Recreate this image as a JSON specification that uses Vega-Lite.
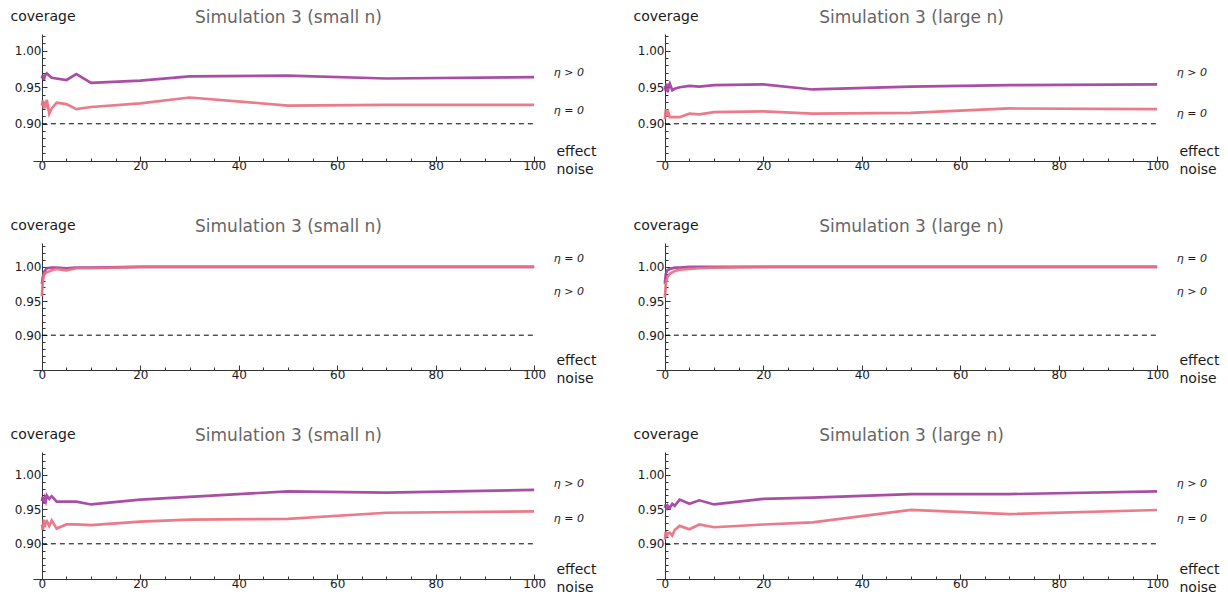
{
  "$schema": "https://vega.github.io/schema/vega-lite/v6.json",
  "padding": {"left": 10, "top": 9, "right": 0, "bottom": 0},
  "config": {
    "font": "DejaVu Sans",
    "view": {"stroke": null},
    "axis": {"grid": false, "domainColor": "#333333", "tickColor": "#333333", "labelColor": "#1a1a1a", "titleColor": "#1a1a1a", "labelFontSize": 12, "titleFontWeight": "normal", "domainWidth": 1, "tickWidth": 1, "labelOverlap": false},
    "title": {"fontSize": 17, "fontWeight": "normal", "color": "#666666", "anchor": "middle", "frame": "group", "offset": -18},
    "line": {"strokeWidth": 2.7, "strokeOpacity": 0.92}
  },
  "datasets": {
    "lines": [
      {"panel":"A","eta":"pos","x":0,"y":0.962},{"panel":"A","eta":"pos","x":0.2,"y":0.967},{"panel":"A","eta":"pos","x":0.4,"y":0.96},{"panel":"A","eta":"pos","x":0.6,"y":0.966},{"panel":"A","eta":"pos","x":1,"y":0.969},{"panel":"A","eta":"pos","x":2,"y":0.963},{"panel":"A","eta":"pos","x":5,"y":0.96},{"panel":"A","eta":"pos","x":7,"y":0.968},{"panel":"A","eta":"pos","x":10,"y":0.956},{"panel":"A","eta":"pos","x":20,"y":0.959},{"panel":"A","eta":"pos","x":30,"y":0.965},{"panel":"A","eta":"pos","x":50,"y":0.966},{"panel":"A","eta":"pos","x":70,"y":0.962},{"panel":"A","eta":"pos","x":100,"y":0.964},
      {"panel":"A","eta":"zero","x":0,"y":0.925},{"panel":"A","eta":"zero","x":0.2,"y":0.932},{"panel":"A","eta":"zero","x":0.4,"y":0.921},{"panel":"A","eta":"zero","x":0.6,"y":0.93},{"panel":"A","eta":"zero","x":0.8,"y":0.926},{"panel":"A","eta":"zero","x":1,"y":0.933},{"panel":"A","eta":"zero","x":1.5,"y":0.914},{"panel":"A","eta":"zero","x":2,"y":0.921},{"panel":"A","eta":"zero","x":3,"y":0.929},{"panel":"A","eta":"zero","x":5,"y":0.927},{"panel":"A","eta":"zero","x":7,"y":0.92},{"panel":"A","eta":"zero","x":10,"y":0.923},{"panel":"A","eta":"zero","x":20,"y":0.928},{"panel":"A","eta":"zero","x":30,"y":0.936},{"panel":"A","eta":"zero","x":50,"y":0.925},{"panel":"A","eta":"zero","x":70,"y":0.926},{"panel":"A","eta":"zero","x":100,"y":0.926},
      {"panel":"B","eta":"pos","x":0,"y":0.952},{"panel":"B","eta":"pos","x":0.2,"y":0.945},{"panel":"B","eta":"pos","x":0.4,"y":0.955},{"panel":"B","eta":"pos","x":0.6,"y":0.943},{"panel":"B","eta":"pos","x":0.8,"y":0.952},{"panel":"B","eta":"pos","x":1,"y":0.955},{"panel":"B","eta":"pos","x":1.5,"y":0.946},{"panel":"B","eta":"pos","x":2,"y":0.948},{"panel":"B","eta":"pos","x":3,"y":0.95},{"panel":"B","eta":"pos","x":5,"y":0.952},{"panel":"B","eta":"pos","x":7,"y":0.951},{"panel":"B","eta":"pos","x":10,"y":0.953},{"panel":"B","eta":"pos","x":20,"y":0.954},{"panel":"B","eta":"pos","x":30,"y":0.947},{"panel":"B","eta":"pos","x":50,"y":0.951},{"panel":"B","eta":"pos","x":70,"y":0.953},{"panel":"B","eta":"pos","x":100,"y":0.954},
      {"panel":"B","eta":"zero","x":0,"y":0.906},{"panel":"B","eta":"zero","x":0.2,"y":0.92},{"panel":"B","eta":"zero","x":0.4,"y":0.91},{"panel":"B","eta":"zero","x":0.6,"y":0.918},{"panel":"B","eta":"zero","x":1,"y":0.909},{"panel":"B","eta":"zero","x":2,"y":0.909},{"panel":"B","eta":"zero","x":3,"y":0.909},{"panel":"B","eta":"zero","x":5,"y":0.914},{"panel":"B","eta":"zero","x":7,"y":0.913},{"panel":"B","eta":"zero","x":10,"y":0.916},{"panel":"B","eta":"zero","x":20,"y":0.917},{"panel":"B","eta":"zero","x":30,"y":0.914},{"panel":"B","eta":"zero","x":50,"y":0.915},{"panel":"B","eta":"zero","x":70,"y":0.921},{"panel":"B","eta":"zero","x":100,"y":0.92},
      {"panel":"C","eta":"pos","x":0,"y":0.975},{"panel":"C","eta":"pos","x":0.2,"y":0.985},{"panel":"C","eta":"pos","x":0.5,"y":0.993},{"panel":"C","eta":"pos","x":1,"y":0.998},{"panel":"C","eta":"pos","x":2,"y":0.999},{"panel":"C","eta":"pos","x":3,"y":0.999},{"panel":"C","eta":"pos","x":5,"y":0.998},{"panel":"C","eta":"pos","x":7,"y":0.999},{"panel":"C","eta":"pos","x":10,"y":0.999},{"panel":"C","eta":"pos","x":20,"y":1.0},{"panel":"C","eta":"pos","x":30,"y":1.0},{"panel":"C","eta":"pos","x":50,"y":1.0},{"panel":"C","eta":"pos","x":70,"y":1.0},{"panel":"C","eta":"pos","x":100,"y":1.0},
      {"panel":"C","eta":"zero","x":0,"y":0.957},{"panel":"C","eta":"zero","x":0.2,"y":0.98},{"panel":"C","eta":"zero","x":0.5,"y":0.99},{"panel":"C","eta":"zero","x":1,"y":0.992},{"panel":"C","eta":"zero","x":2,"y":0.995},{"panel":"C","eta":"zero","x":3,"y":0.997},{"panel":"C","eta":"zero","x":5,"y":0.995},{"panel":"C","eta":"zero","x":7,"y":0.998},{"panel":"C","eta":"zero","x":10,"y":0.998},{"panel":"C","eta":"zero","x":20,"y":1.0},{"panel":"C","eta":"zero","x":30,"y":1.0},{"panel":"C","eta":"zero","x":50,"y":1.0},{"panel":"C","eta":"zero","x":70,"y":1.0},{"panel":"C","eta":"zero","x":100,"y":1.0},
      {"panel":"D","eta":"pos","x":0,"y":0.975},{"panel":"D","eta":"pos","x":0.2,"y":0.99},{"panel":"D","eta":"pos","x":0.5,"y":0.995},{"panel":"D","eta":"pos","x":1,"y":0.997},{"panel":"D","eta":"pos","x":2,"y":0.999},{"panel":"D","eta":"pos","x":3,"y":0.999},{"panel":"D","eta":"pos","x":5,"y":1.0},{"panel":"D","eta":"pos","x":7,"y":1.0},{"panel":"D","eta":"pos","x":10,"y":1.0},{"panel":"D","eta":"pos","x":20,"y":1.0},{"panel":"D","eta":"pos","x":30,"y":1.0},{"panel":"D","eta":"pos","x":50,"y":1.0},{"panel":"D","eta":"pos","x":70,"y":1.0},{"panel":"D","eta":"pos","x":100,"y":1.0},
      {"panel":"D","eta":"zero","x":0,"y":0.955},{"panel":"D","eta":"zero","x":0.2,"y":0.975},{"panel":"D","eta":"zero","x":0.5,"y":0.985},{"panel":"D","eta":"zero","x":1,"y":0.99},{"panel":"D","eta":"zero","x":2,"y":0.994},{"panel":"D","eta":"zero","x":3,"y":0.996},{"panel":"D","eta":"zero","x":5,"y":0.997},{"panel":"D","eta":"zero","x":7,"y":0.998},{"panel":"D","eta":"zero","x":10,"y":0.999},{"panel":"D","eta":"zero","x":20,"y":1.0},{"panel":"D","eta":"zero","x":30,"y":1.0},{"panel":"D","eta":"zero","x":50,"y":1.0},{"panel":"D","eta":"zero","x":70,"y":1.0},{"panel":"D","eta":"zero","x":100,"y":1.0},
      {"panel":"E","eta":"pos","x":0,"y":0.962},{"panel":"E","eta":"pos","x":0.2,"y":0.968},{"panel":"E","eta":"pos","x":0.4,"y":0.958},{"panel":"E","eta":"pos","x":0.6,"y":0.966},{"panel":"E","eta":"pos","x":0.8,"y":0.962},{"panel":"E","eta":"pos","x":1,"y":0.97},{"panel":"E","eta":"pos","x":1.5,"y":0.965},{"panel":"E","eta":"pos","x":2,"y":0.969},{"panel":"E","eta":"pos","x":3,"y":0.961},{"panel":"E","eta":"pos","x":5,"y":0.961},{"panel":"E","eta":"pos","x":7,"y":0.961},{"panel":"E","eta":"pos","x":10,"y":0.957},{"panel":"E","eta":"pos","x":20,"y":0.964},{"panel":"E","eta":"pos","x":30,"y":0.968},{"panel":"E","eta":"pos","x":50,"y":0.976},{"panel":"E","eta":"pos","x":70,"y":0.974},{"panel":"E","eta":"pos","x":100,"y":0.978},
      {"panel":"E","eta":"zero","x":0,"y":0.928},{"panel":"E","eta":"zero","x":0.2,"y":0.92},{"panel":"E","eta":"zero","x":0.4,"y":0.935},{"panel":"E","eta":"zero","x":0.6,"y":0.924},{"panel":"E","eta":"zero","x":0.8,"y":0.932},{"panel":"E","eta":"zero","x":1,"y":0.933},{"panel":"E","eta":"zero","x":1.5,"y":0.926},{"panel":"E","eta":"zero","x":2,"y":0.934},{"panel":"E","eta":"zero","x":3,"y":0.922},{"panel":"E","eta":"zero","x":5,"y":0.928},{"panel":"E","eta":"zero","x":7,"y":0.928},{"panel":"E","eta":"zero","x":10,"y":0.927},{"panel":"E","eta":"zero","x":20,"y":0.932},{"panel":"E","eta":"zero","x":30,"y":0.935},{"panel":"E","eta":"zero","x":50,"y":0.936},{"panel":"E","eta":"zero","x":70,"y":0.945},{"panel":"E","eta":"zero","x":100,"y":0.947},
      {"panel":"F","eta":"pos","x":0,"y":0.952},{"panel":"F","eta":"pos","x":0.2,"y":0.957},{"panel":"F","eta":"pos","x":0.4,"y":0.949},{"panel":"F","eta":"pos","x":0.6,"y":0.955},{"panel":"F","eta":"pos","x":1,"y":0.952},{"panel":"F","eta":"pos","x":1.5,"y":0.958},{"panel":"F","eta":"pos","x":2,"y":0.955},{"panel":"F","eta":"pos","x":3,"y":0.964},{"panel":"F","eta":"pos","x":5,"y":0.958},{"panel":"F","eta":"pos","x":7,"y":0.963},{"panel":"F","eta":"pos","x":10,"y":0.957},{"panel":"F","eta":"pos","x":20,"y":0.965},{"panel":"F","eta":"pos","x":30,"y":0.967},{"panel":"F","eta":"pos","x":50,"y":0.972},{"panel":"F","eta":"pos","x":70,"y":0.972},{"panel":"F","eta":"pos","x":100,"y":0.976},
      {"panel":"F","eta":"zero","x":0,"y":0.906},{"panel":"F","eta":"zero","x":0.2,"y":0.918},{"panel":"F","eta":"zero","x":0.4,"y":0.91},{"panel":"F","eta":"zero","x":0.6,"y":0.915},{"panel":"F","eta":"zero","x":1,"y":0.916},{"panel":"F","eta":"zero","x":1.5,"y":0.912},{"panel":"F","eta":"zero","x":2,"y":0.92},{"panel":"F","eta":"zero","x":3,"y":0.926},{"panel":"F","eta":"zero","x":5,"y":0.921},{"panel":"F","eta":"zero","x":7,"y":0.928},{"panel":"F","eta":"zero","x":10,"y":0.924},{"panel":"F","eta":"zero","x":20,"y":0.928},{"panel":"F","eta":"zero","x":30,"y":0.931},{"panel":"F","eta":"zero","x":50,"y":0.949},{"panel":"F","eta":"zero","x":70,"y":0.943},{"panel":"F","eta":"zero","x":100,"y":0.949}
    ],
    "labels": [
      {"panel":"A","label":"η > 0","y":0.970},{"panel":"A","label":"η = 0","y":0.918},
      {"panel":"B","label":"η > 0","y":0.970},{"panel":"B","label":"η = 0","y":0.914},
      {"panel":"C","label":"η = 0","y":1.012},{"panel":"C","label":"η > 0","y":0.963},
      {"panel":"D","label":"η = 0","y":1.012},{"panel":"D","label":"η > 0","y":0.963},
      {"panel":"E","label":"η > 0","y":0.987},{"panel":"E","label":"η = 0","y":0.936},
      {"panel":"F","label":"η > 0","y":0.987},{"panel":"F","label":"η = 0","y":0.936}
    ],
    "ref": [{"level": 0.9, "from": 0, "to": 100}]
  },
  "spacing": 42,
  "vconcat": [
    {"hconcat": [
      {"width": 511, "height": 127, "title": "Simulation 3 (small n)",
       "resolve": {"axis": {"x": "independent", "y": "independent"}},
       "layer": [
        {"data": {"name": "lines"}, "transform": [{"filter": "datum.panel == 'A'"}],
         "mark": {"type": "line"},
         "encoding": {
          "x": {"field": "x", "type": "quantitative", "scale": {"domain": [-1.8, 102], "nice": false, "zero": false},
                "axis": {"orient": "bottom", "values": [0,20,40,60,80,100], "tickSize": -5, "labelPadding": 4, "title": ["effect", "noise"], "titleX": 523, "titleY": -17, "titleAlign": "left", "titleBaseline": "top", "titleFontSize": 14, "titleLineHeight": 18}},
          "y": {"field": "y", "type": "quantitative", "scale": {"domain": [0.849, 1.023], "nice": false, "zero": false},
                "axis": {"orient": "left", "offset": -9, "values": [0.9, 0.95, 1.0], "format": ".2f", "tickSize": -5, "labelPadding": 6, "title": "coverage", "titleAngle": 0, "titleX": -32, "titleY": -14, "titleAlign": "left", "titleBaseline": "alphabetic", "titleFontSize": 14}},
          "color": {"field": "eta", "type": "nominal", "scale": {"domain": ["pos", "zero"], "range": ["#a23f9c", "#e96f80"]}, "legend": null}}},
        {"data": {"name": "ref"}, "mark": {"type": "rule", "strokeDash": [5, 4], "color": "black", "strokeWidth": 1},
         "encoding": {
          "x": {"field": "from", "type": "quantitative", "axis": {"orient": "bottom", "values": [5,10,15,25,30,35,45,50,55,65,70,75,85,90,95], "labels": false, "domain": false, "tickSize": -3, "title": null}},
          "x2": {"field": "to"},
          "y": {"field": "level", "type": "quantitative", "axis": {"orient": "left", "offset": -9, "values": [0.86,0.87,0.88,0.89,0.91,0.92,0.93,0.94,0.96,0.97,0.98,0.99,1.01,1.02], "labels": false, "domain": false, "tickSize": -3, "title": null}}}},
        {"data": {"name": "labels"}, "transform": [{"filter": "datum.panel == 'A'"}],
         "mark": {"type": "text", "align": "left", "baseline": "middle", "fontSize": 11, "fontStyle": "italic", "color": "#1a1a1a"},
         "encoding": {"x": {"datum": 104, "type": "quantitative", "axis": null}, "y": {"field": "y", "type": "quantitative", "axis": null}, "text": {"field": "label"}}}
       ]},
      {"width": 511, "height": 127, "title": "Simulation 3 (large n)",
       "resolve": {"axis": {"x": "independent", "y": "independent"}},
       "layer": [
        {"data": {"name": "lines"}, "transform": [{"filter": "datum.panel == 'B'"}],
         "mark": {"type": "line"},
         "encoding": {
          "x": {"field": "x", "type": "quantitative", "scale": {"domain": [-1.8, 102], "nice": false, "zero": false},
                "axis": {"orient": "bottom", "values": [0,20,40,60,80,100], "tickSize": -5, "labelPadding": 4, "title": ["effect", "noise"], "titleX": 523, "titleY": -17, "titleAlign": "left", "titleBaseline": "top", "titleFontSize": 14, "titleLineHeight": 18}},
          "y": {"field": "y", "type": "quantitative", "scale": {"domain": [0.849, 1.023], "nice": false, "zero": false},
                "axis": {"orient": "left", "offset": -9, "values": [0.9, 0.95, 1.0], "format": ".2f", "tickSize": -5, "labelPadding": 6, "title": "coverage", "titleAngle": 0, "titleX": -32, "titleY": -14, "titleAlign": "left", "titleBaseline": "alphabetic", "titleFontSize": 14}},
          "color": {"field": "eta", "type": "nominal", "scale": {"domain": ["pos", "zero"], "range": ["#a23f9c", "#e96f80"]}, "legend": null}}},
        {"data": {"name": "ref"}, "mark": {"type": "rule", "strokeDash": [5, 4], "color": "black", "strokeWidth": 1},
         "encoding": {
          "x": {"field": "from", "type": "quantitative", "axis": {"orient": "bottom", "values": [5,10,15,25,30,35,45,50,55,65,70,75,85,90,95], "labels": false, "domain": false, "tickSize": -3, "title": null}},
          "x2": {"field": "to"},
          "y": {"field": "level", "type": "quantitative", "axis": {"orient": "left", "offset": -9, "values": [0.86,0.87,0.88,0.89,0.91,0.92,0.93,0.94,0.96,0.97,0.98,0.99,1.01,1.02], "labels": false, "domain": false, "tickSize": -3, "title": null}}}},
        {"data": {"name": "labels"}, "transform": [{"filter": "datum.panel == 'B'"}],
         "mark": {"type": "text", "align": "left", "baseline": "middle", "fontSize": 11, "fontStyle": "italic", "color": "#1a1a1a"},
         "encoding": {"x": {"datum": 104, "type": "quantitative", "axis": null}, "y": {"field": "y", "type": "quantitative", "axis": null}, "text": {"field": "label"}}}
       ]}
    ], "spacing": 36},
    {"hconcat": [
      {"width": 511, "height": 127, "title": "Simulation 3 (small n)",
       "resolve": {"axis": {"x": "independent", "y": "independent"}},
       "layer": [
        {"data": {"name": "lines"}, "transform": [{"filter": "datum.panel == 'C'"}],
         "mark": {"type": "line"},
         "encoding": {
          "x": {"field": "x", "type": "quantitative", "scale": {"domain": [-1.8, 102], "nice": false, "zero": false},
                "axis": {"orient": "bottom", "values": [0,20,40,60,80,100], "tickSize": -5, "labelPadding": 4, "title": ["effect", "noise"], "titleX": 523, "titleY": -17, "titleAlign": "left", "titleBaseline": "top", "titleFontSize": 14, "titleLineHeight": 18}},
          "y": {"field": "y", "type": "quantitative", "scale": {"domain": [0.849, 1.035], "nice": false, "zero": false},
                "axis": {"orient": "left", "offset": -9, "values": [0.9, 0.95, 1.0], "format": ".2f", "tickSize": -5, "labelPadding": 6, "title": "coverage", "titleAngle": 0, "titleX": -32, "titleY": -14, "titleAlign": "left", "titleBaseline": "alphabetic", "titleFontSize": 14}},
          "color": {"field": "eta", "type": "nominal", "scale": {"domain": ["pos", "zero"], "range": ["#a23f9c", "#e96f80"]}, "legend": null}}},
        {"data": {"name": "ref"}, "mark": {"type": "rule", "strokeDash": [5, 4], "color": "black", "strokeWidth": 1},
         "encoding": {
          "x": {"field": "from", "type": "quantitative", "axis": {"orient": "bottom", "values": [5,10,15,25,30,35,45,50,55,65,70,75,85,90,95], "labels": false, "domain": false, "tickSize": -3, "title": null}},
          "x2": {"field": "to"},
          "y": {"field": "level", "type": "quantitative", "axis": {"orient": "left", "offset": -9, "values": [0.86,0.87,0.88,0.89,0.91,0.92,0.93,0.94,0.96,0.97,0.98,0.99,1.01,1.02,1.03], "labels": false, "domain": false, "tickSize": -3, "title": null}}}},
        {"data": {"name": "labels"}, "transform": [{"filter": "datum.panel == 'C'"}],
         "mark": {"type": "text", "align": "left", "baseline": "middle", "fontSize": 11, "fontStyle": "italic", "color": "#1a1a1a"},
         "encoding": {"x": {"datum": 104, "type": "quantitative", "axis": null}, "y": {"field": "y", "type": "quantitative", "axis": null}, "text": {"field": "label"}}}
       ]},
      {"width": 511, "height": 127, "title": "Simulation 3 (large n)",
       "resolve": {"axis": {"x": "independent", "y": "independent"}},
       "layer": [
        {"data": {"name": "lines"}, "transform": [{"filter": "datum.panel == 'D'"}],
         "mark": {"type": "line"},
         "encoding": {
          "x": {"field": "x", "type": "quantitative", "scale": {"domain": [-1.8, 102], "nice": false, "zero": false},
                "axis": {"orient": "bottom", "values": [0,20,40,60,80,100], "tickSize": -5, "labelPadding": 4, "title": ["effect", "noise"], "titleX": 523, "titleY": -17, "titleAlign": "left", "titleBaseline": "top", "titleFontSize": 14, "titleLineHeight": 18}},
          "y": {"field": "y", "type": "quantitative", "scale": {"domain": [0.849, 1.035], "nice": false, "zero": false},
                "axis": {"orient": "left", "offset": -9, "values": [0.9, 0.95, 1.0], "format": ".2f", "tickSize": -5, "labelPadding": 6, "title": "coverage", "titleAngle": 0, "titleX": -32, "titleY": -14, "titleAlign": "left", "titleBaseline": "alphabetic", "titleFontSize": 14}},
          "color": {"field": "eta", "type": "nominal", "scale": {"domain": ["pos", "zero"], "range": ["#a23f9c", "#e96f80"]}, "legend": null}}},
        {"data": {"name": "ref"}, "mark": {"type": "rule", "strokeDash": [5, 4], "color": "black", "strokeWidth": 1},
         "encoding": {
          "x": {"field": "from", "type": "quantitative", "axis": {"orient": "bottom", "values": [5,10,15,25,30,35,45,50,55,65,70,75,85,90,95], "labels": false, "domain": false, "tickSize": -3, "title": null}},
          "x2": {"field": "to"},
          "y": {"field": "level", "type": "quantitative", "axis": {"orient": "left", "offset": -9, "values": [0.86,0.87,0.88,0.89,0.91,0.92,0.93,0.94,0.96,0.97,0.98,0.99,1.01,1.02,1.03], "labels": false, "domain": false, "tickSize": -3, "title": null}}}},
        {"data": {"name": "labels"}, "transform": [{"filter": "datum.panel == 'D'"}],
         "mark": {"type": "text", "align": "left", "baseline": "middle", "fontSize": 11, "fontStyle": "italic", "color": "#1a1a1a"},
         "encoding": {"x": {"datum": 104, "type": "quantitative", "axis": null}, "y": {"field": "y", "type": "quantitative", "axis": null}, "text": {"field": "label"}}}
       ]}
    ], "spacing": 36},
    {"hconcat": [
      {"width": 511, "height": 127, "title": "Simulation 3 (small n)",
       "resolve": {"axis": {"x": "independent", "y": "independent"}},
       "layer": [
        {"data": {"name": "lines"}, "transform": [{"filter": "datum.panel == 'E'"}],
         "mark": {"type": "line"},
         "encoding": {
          "x": {"field": "x", "type": "quantitative", "scale": {"domain": [-1.8, 102], "nice": false, "zero": false},
                "axis": {"orient": "bottom", "values": [0,20,40,60,80,100], "tickSize": -5, "labelPadding": 4, "title": ["effect", "noise"], "titleX": 523, "titleY": -17, "titleAlign": "left", "titleBaseline": "top", "titleFontSize": 14, "titleLineHeight": 18}},
          "y": {"field": "y", "type": "quantitative", "scale": {"domain": [0.849, 1.033], "nice": false, "zero": false},
                "axis": {"orient": "left", "offset": -9, "values": [0.9, 0.95, 1.0], "format": ".2f", "tickSize": -5, "labelPadding": 6, "title": "coverage", "titleAngle": 0, "titleX": -32, "titleY": -14, "titleAlign": "left", "titleBaseline": "alphabetic", "titleFontSize": 14}},
          "color": {"field": "eta", "type": "nominal", "scale": {"domain": ["pos", "zero"], "range": ["#a23f9c", "#e96f80"]}, "legend": null}}},
        {"data": {"name": "ref"}, "mark": {"type": "rule", "strokeDash": [5, 4], "color": "black", "strokeWidth": 1},
         "encoding": {
          "x": {"field": "from", "type": "quantitative", "axis": {"orient": "bottom", "values": [5,10,15,25,30,35,45,50,55,65,70,75,85,90,95], "labels": false, "domain": false, "tickSize": -3, "title": null}},
          "x2": {"field": "to"},
          "y": {"field": "level", "type": "quantitative", "axis": {"orient": "left", "offset": -9, "values": [0.86,0.87,0.88,0.89,0.91,0.92,0.93,0.94,0.96,0.97,0.98,0.99,1.01,1.02,1.03], "labels": false, "domain": false, "tickSize": -3, "title": null}}}},
        {"data": {"name": "labels"}, "transform": [{"filter": "datum.panel == 'E'"}],
         "mark": {"type": "text", "align": "left", "baseline": "middle", "fontSize": 11, "fontStyle": "italic", "color": "#1a1a1a"},
         "encoding": {"x": {"datum": 104, "type": "quantitative", "axis": null}, "y": {"field": "y", "type": "quantitative", "axis": null}, "text": {"field": "label"}}}
       ]},
      {"width": 511, "height": 127, "title": "Simulation 3 (large n)",
       "resolve": {"axis": {"x": "independent", "y": "independent"}},
       "layer": [
        {"data": {"name": "lines"}, "transform": [{"filter": "datum.panel == 'F'"}],
         "mark": {"type": "line"},
         "encoding": {
          "x": {"field": "x", "type": "quantitative", "scale": {"domain": [-1.8, 102], "nice": false, "zero": false},
                "axis": {"orient": "bottom", "values": [0,20,40,60,80,100], "tickSize": -5, "labelPadding": 4, "title": ["effect", "noise"], "titleX": 523, "titleY": -17, "titleAlign": "left", "titleBaseline": "top", "titleFontSize": 14, "titleLineHeight": 18}},
          "y": {"field": "y", "type": "quantitative", "scale": {"domain": [0.849, 1.033], "nice": false, "zero": false},
                "axis": {"orient": "left", "offset": -9, "values": [0.9, 0.95, 1.0], "format": ".2f", "tickSize": -5, "labelPadding": 6, "title": "coverage", "titleAngle": 0, "titleX": -32, "titleY": -14, "titleAlign": "left", "titleBaseline": "alphabetic", "titleFontSize": 14}},
          "color": {"field": "eta", "type": "nominal", "scale": {"domain": ["pos", "zero"], "range": ["#a23f9c", "#e96f80"]}, "legend": null}}},
        {"data": {"name": "ref"}, "mark": {"type": "rule", "strokeDash": [5, 4], "color": "black", "strokeWidth": 1},
         "encoding": {
          "x": {"field": "from", "type": "quantitative", "axis": {"orient": "bottom", "values": [5,10,15,25,30,35,45,50,55,65,70,75,85,90,95], "labels": false, "domain": false, "tickSize": -3, "title": null}},
          "x2": {"field": "to"},
          "y": {"field": "level", "type": "quantitative", "axis": {"orient": "left", "offset": -9, "values": [0.86,0.87,0.88,0.89,0.91,0.92,0.93,0.94,0.96,0.97,0.98,0.99,1.01,1.02,1.03], "labels": false, "domain": false, "tickSize": -3, "title": null}}}},
        {"data": {"name": "labels"}, "transform": [{"filter": "datum.panel == 'F'"}],
         "mark": {"type": "text", "align": "left", "baseline": "middle", "fontSize": 11, "fontStyle": "italic", "color": "#1a1a1a"},
         "encoding": {"x": {"datum": 104, "type": "quantitative", "axis": null}, "y": {"field": "y", "type": "quantitative", "axis": null}, "text": {"field": "label"}}}
       ]}
    ], "spacing": 36}
  ]
}
